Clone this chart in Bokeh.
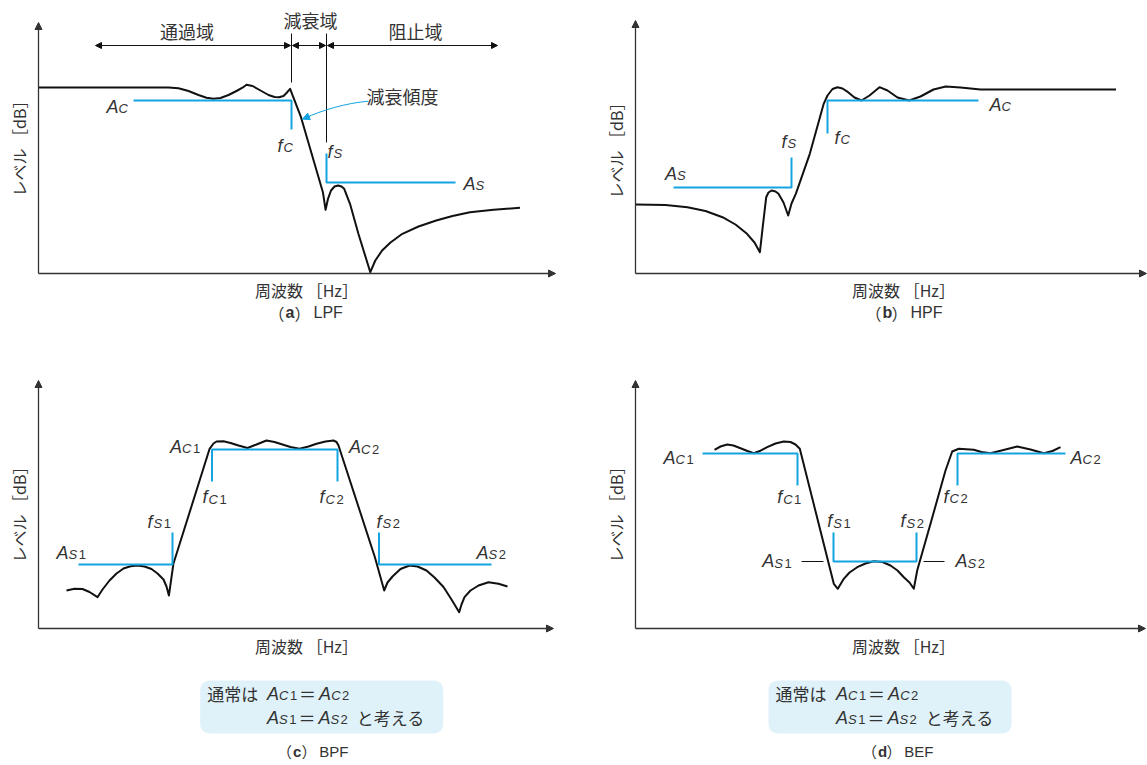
from bokeh.plotting import figure
from bokeh.layouts import column, row
from bokeh.models import Range1d, Arrow, NormalHead, BoxAnnotation
from bokeh.core.properties import value
from bokeh.embed import file_html
from bokeh.resources import INLINE
import math

# ---------------- data (frequency units from the level axis, level units above the frequency axis)
# (a) LPF response
lpf_f = [0, 130, 140, 150, 160, 168, 175, 182, 190, 198, 204, 208, 214, 222, 230, 236, 240.5, 245, 248, 251.6,
         262.5, 284.4, 287.1, 289.5, 292.5, 296, 299.6, 303, 305.7, 311.5, 319.9, 331.8, 336.8, 343.6, 352,
         363.9, 380, 397.7, 414, 431.5, 455, 481.5]
lpf_lv = [186, 186, 185.3, 182.5, 178.5, 175.8, 174.8, 175.5, 178.5, 182.5, 185.8, 188.7, 187.5, 183, 178.5,
          176.5, 176.3, 177.5, 180.5, 184.7, 156.3, 81.3, 63.7, 74.7, 83, 87, 88, 87, 84.7, 69.7, 39.7, 1.3,
          13, 23, 31, 39.7, 47, 53, 57.5, 61.3, 63.7, 65.7]
lpf_pass_f, lpf_pass_lv = [95, 253, 253], [173, 173, 144]
lpf_stop_f, lpf_stop_lv = [288, 288, 417], [120, 91, 91]
lpf_fc, lpf_fs = 253, 288

# (b) HPF response
hpf_f = [0, 30, 52, 70, 87, 100, 111.5, 119, 124.4, 127.2, 130.7, 133, 136, 140, 143, 148, 152.7, 156, 160.3,
         174.3, 188.2, 192, 197, 202, 207, 212.6, 219, 226, 234, 244, 252, 262, 273.7, 285, 298, 310.3, 325,
         345, 480.5]
hpf_lv = [69, 68.5, 66.3, 62.5, 56.3, 49, 39.7, 31, 21.3, 46.3, 76.3, 81, 83, 82, 79.7, 71, 58, 70, 79.7,
          119.7, 169.7, 178, 184.5, 186.3, 185, 181.3, 176, 173, 178, 186.3, 183, 176, 173, 177, 184, 187, 186,
          184, 184]
hpf_stop_f, hpf_stop_lv = [38, 156, 156], [86, 86, 116]
hpf_pass_f, hpf_pass_lv = [192, 192, 343], [140, 173, 173]

# (c) BPF response
bpf_f = [28, 36, 44, 51, 59, 64, 71, 78, 85, 92, 99, 106, 113, 119, 125, 128, 130.4, 134.9, 171.1, 175, 178,
         185, 192, 200, 209, 218, 228, 236, 244, 252, 261, 270, 278, 287, 295, 298, 300, 336.4, 345.7, 349, 354,
         362, 371, 379, 388, 396, 405, 413, 420.7, 423, 426, 432, 440, 450, 460, 469]
bpf_lv = [38, 39.7, 39.5, 36.5, 31.3, 39, 48, 55, 60, 62.3, 63, 62, 59.5, 55, 49, 42, 33, 64.7, 179.7, 185, 187,
          187.3, 185.5, 183, 180.5, 184, 188, 186.5, 184, 181.5, 179.7, 182, 184.7, 187, 188, 186.5, 183, 71.3,
          38, 46, 52, 59.5, 63, 62, 58, 51, 41.5, 29, 16.3, 24, 31.3, 38, 43, 46.3, 44.7, 42]
bpf_stop1_f, bpf_stop1_lv = [40, 134, 134], [64, 64, 96]
bpf_pass_f, bpf_pass_lv = [173.5, 173.5, 299, 299], [147, 179, 179, 147]
bpf_stop2_f, bpf_stop2_lv = [340.5, 340.5, 453], [96, 64, 64]

# (d) BEF response
bef_f = [79, 85, 91.7, 98, 105, 112, 118.3, 125, 131.7, 140, 148.3, 155, 160, 164.3, 198.3, 202.3, 208.3, 214,
         221.7, 230, 238.3, 247, 255, 262, 268.3, 274, 278.3, 281.7, 295, 310, 316.7, 323.3, 338.3, 346, 355,
         368, 381.7, 395, 408.3, 417, 425]
bef_lv = [178.7, 182, 184, 183, 180.3, 177.5, 175.3, 177.8, 181.3, 185, 187, 186.5, 184, 179.7, 44.7, 39.7,
          49.7, 56, 61.3, 65, 67.3, 66.5, 63, 58, 51.3, 46, 39.7, 58, 104.7, 158, 177, 179.7, 178.7, 176.5,
          175.3, 178.5, 182, 179, 175.3, 177.5, 181.3]
bef_pass1_f, bef_pass1_lv = [67, 162, 162], [175, 175, 143]
bef_stop_f, bef_stop_lv = [198, 198, 281, 281], [96, 67, 67, 96]
bef_pass2_f, bef_pass2_lv = [322, 322, 430], [143, 175, 175]
bef_tick1_f, bef_tick2_f, bef_tick_lv = [166, 188], [288, 309], [67, 67]

# symbol labels: (main, sub, digit, f, level of baseline)
lpf_labels = [("A", "C", "", 68, 167), ("f", "C", "", 239, 128), ("f", "S", "", 289, 122), ("A", "S", "", 425, 90)]
hpf_labels = [("A", "S", "", 29.5, 100), ("f", "S", "", 146, 132), ("f", "C", "", 199, 136), ("A", "C", "", 354, 169)]
bpf_labels = [("A", "C", "1", 131.5, 182), ("A", "C", "2", 310.5, 181.5), ("f", "C", "1", 164, 131.5),
              ("f", "C", "2", 281, 131.5), ("f", "S", "1", 109, 107), ("f", "S", "2", 338, 107),
              ("A", "S", "1", 18, 76), ("A", "S", "2", 438, 76)]
bef_labels = [("A", "C", "1", 28, 171), ("A", "C", "2", 435, 171), ("f", "C", "1", 141.7, 131.5),
              ("f", "C", "2", 308, 132), ("f", "S", "1", 191.7, 107.5), ("f", "S", "2", 265, 107.5),
              ("A", "S", "1", 126.7, 67.5), ("A", "S", "2", 320, 67.5)]

band_names = ["通過域", "減衰域", "阻止域"]
x_title = "周波数 ［Hz］"
y_title = "レベル ［dB］"
captions = [("a", "LPF"), ("b", "HPF"), ("c", "BPF"), ("d", "BEF")]

# ---------------- styling
BLUE = "#13a4e2"
INK = "#111111"
TXT = "#333333"
AXC = "#333333"
NOTE_BG = "#dff1f9"
LAT = "Liberation Sans"
CJK = "Noto Sans CJK JP"
ADV = {"A": 0.667, "C": 0.722, "S": 0.667, "f": 0.278, "1": 0.556, "2": 0.556}


def make_fig(w, h):
    p = figure(width=w, height=h, x_range=Range1d(-38, w - 38), y_range=Range1d(273 - h, 273),
               output_backend="svg", toolbar_location=None, tools="", min_border=0,
               x_axis_location=None, y_axis_location=None)
    p.grid.visible = False
    p.xgrid.grid_line_color = None
    p.ygrid.grid_line_color = None
    p.outline_line_color = None
    p.background_fill_color = "white"
    p.border_fill_color = "white"
    return p


def t(p, x, y, s, size, font=CJK, style="normal", align="left", base="alphabetic", angle=0.0,
      color=TXT, xo=0.0, yo=0.0):
    p.text(x=[x], y=[y], text=[s], text_font=value(font), text_font_size=f"{size}px",
           text_font_style=style, text_align=align, text_baseline=base, angle=angle,
           text_color=color, x_offset=xo, y_offset=yo)


def sym(p, x, y, main, sub, num="", size=18):
    ss = round(size * 0.72)
    t(p, x, y, main, size, LAT, "italic")
    xo = ADV[main] * size + (1 if main == "f" else 0)
    t(p, x, y, sub, ss, LAT, "italic", xo=xo, yo=2)
    xo += ADV[sub] * ss + 1.5
    if num:
        t(p, x, y, num, ss, LAT, "normal", xo=xo, yo=2)
        xo += ADV[num] * ss
    return xo


def axes(p, xt, yt):
    head = dict(size=7, fill_color=AXC, line_color=AXC, line_width=1)
    p.add_layout(Arrow(end=NormalHead(**head), x_start=0, y_start=0, x_end=xt, y_end=0,
                       line_color=AXC, line_width=1.3))
    p.add_layout(Arrow(end=NormalHead(**head), x_start=0, y_start=0, x_end=0, y_end=yt,
                       line_color=AXC, line_width=1.3))


def titles(p, ylab_lv, xlab_lv, cap_lv, cap_x, cap, cap_size=16):
    t(p, -20, ylab_lv, y_title, 16, align="center", base="middle", angle=math.pi / 2)
    t(p, 268, xlab_lv, x_title, 16, align="center", base="middle")
    letter, name = cap
    k = cap_size / 16
    x0 = cap_x - 40 * k
    t(p, x0, cap_lv, "（", cap_size, base="middle")
    t(p, x0 + 17 * k, cap_lv, letter, cap_size, LAT, "bold", base="middle")
    t(p, x0 + 26 * k, cap_lv, "）", cap_size, base="middle")
    t(p, x0 + 45 * k, cap_lv, name, cap_size, LAT, base="middle")


def curve(p, xs, ys):
    p.line(xs, ys, line_color=INK, line_width=2, line_join="round")


def spec(p, xs, ys):
    p.line(xs, ys, line_color=BLUE, line_width=2)


def labels(p, items):
    for m, s, n, x, y in items:
        sym(p, x, y, m, s, n)


def note(p, x_txt, x_sym, lv1, lv2):
    p.add_layout(BoxAnnotation(left=x_txt - 7, right=x_txt + 236, top=-52, bottom=-105,
                               fill_color=NOTE_BG, fill_alpha=1, line_color=None, border_radius=9,
                               level="underlay"))
    t(p, x_txt, lv1, "通常は", 17)
    w = sym(p, x_sym, lv1, "A", "C", "1", 18)
    t(p, x_sym + w + 2, lv1, "＝", 17)
    sym(p, x_sym + w + 22, lv1, "A", "C", "2", 18)
    w2 = sym(p, x_sym, lv2, "A", "S", "1", 18)
    t(p, x_sym + w2 + 2, lv2, "＝", 17)
    w3 = sym(p, x_sym + w2 + 22, lv2, "A", "S", "2", 18)
    t(p, x_sym + w2 + 22 + w3 + 9, lv2, "と考える", 17)


# ---------------- (a) LPF
pa = make_fig(597, 355)
axes(pa, 517, 251)
curve(pa, lpf_f, lpf_lv)
spec(pa, lpf_pass_f, lpf_pass_lv)
spec(pa, lpf_stop_f, lpf_stop_lv)
labels(pa, lpf_labels)
pa.line([lpf_fc, lpf_fc], [240, 191], line_color=INK, line_width=1)
pa.line([lpf_fs, lpf_fs], [240, 131], line_color=INK, line_width=1)
dh = dict(size=6, fill_color=INK, line_color=INK, line_width=1)
for xs, xe in [(56, lpf_fc), (lpf_fc, lpf_fs), (lpf_fs, 460)]:
    pa.add_layout(Arrow(start=NormalHead(**dh), end=NormalHead(**dh), x_start=xs + 1, y_start=228,
                        x_end=xe - 1, y_end=228, line_color=INK, line_width=1))
t(pa, 148.6, 242.5, band_names[0], 18, align="center", base="middle")
t(pa, 272, 254, band_names[1], 18, align="center", base="middle")
t(pa, 377, 242.5, band_names[2], 18, align="center", base="middle")
t(pa, 328, 177.5, "減衰傾度", 18, base="middle")
pa.bezier(x0=[330], y0=[172.3], x1=[266], y1=[155.2], cx0=[308], cy0=[170.5], cx1=[284], cy1=[163.5],
          line_color=BLUE, line_width=1)
pa.add_layout(Arrow(end=NormalHead(size=7, fill_color=BLUE, line_color=BLUE, line_width=1),
                    x_start=272, y_start=157.7, x_end=264, y_end=154.4, line_color=BLUE, line_width=1))
titles(pa, 129, -16, -39, 270, captions[0])

# ---------------- (b) HPF
pb = make_fig(550, 355)
axes(pb, 511, 253)
curve(pb, hpf_f, hpf_lv)
spec(pb, hpf_stop_f, hpf_stop_lv)
spec(pb, hpf_pass_f, hpf_pass_lv)
labels(pb, hpf_labels)
titles(pb, 127, -16, -39, 270, captions[1])

# ---------------- (c) BPF
pc = make_fig(597, 410)
axes(pc, 515, 248)
curve(pc, bpf_f, bpf_lv)
spec(pc, bpf_stop1_f, bpf_stop1_lv)
spec(pc, bpf_pass_f, bpf_pass_lv)
spec(pc, bpf_stop2_f, bpf_stop2_lv)
labels(pc, bpf_labels)
note(pc, 168.7, 228.5, -65, -89)
titles(pc, 118, -17, -123, 276, captions[2], cap_size=15)

# ---------------- (d) BEF
pd = make_fig(550, 410)
axes(pd, 510, 248)
curve(pd, bef_f, bef_lv)
spec(pd, bef_pass1_f, bef_pass1_lv)
spec(pd, bef_stop_f, bef_stop_lv)
spec(pd, bef_pass2_f, bef_pass2_lv)
pd.line(bef_tick1_f, bef_tick_lv, line_color=INK, line_width=1)
pd.line(bef_tick2_f, bef_tick_lv, line_color=INK, line_width=1)
labels(pd, bef_labels)
note(pd, 140, 200.5, -65, -89)
titles(pd, 118, -17, -123, 264, captions[3], cap_size=15)

layout = column(row(pa, pb), row(pc, pd))
open("out.html", "w").write(file_html(layout, INLINE))
